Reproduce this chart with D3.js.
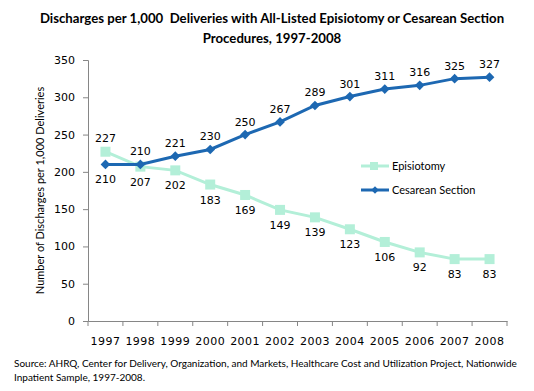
<!DOCTYPE html>
<html><head><meta charset="utf-8">
<script src="https://cdn.jsdelivr.net/npm/d3@7"></script>
<style>body{margin:0;background:#fff}svg{display:block}</style>
</head><body>
<script>
const years = ["1997","1998","1999","2000","2001","2002","2003","2004","2005","2006","2007","2008"];
const episiotomy = [227,207,202,183,169,149,139,123,106,92,83,83];
const cesarean = [210,210,221,230,250,267,289,301,311,316,325,327];
const yTicks = [0,50,100,150,200,250,300,350];
const titleLines = ["Discharges per 1,000  Deliveries with All-Listed Episiotomy or Cesarean Section","Procedures, 1997-2008"];
const sourceLines = ["Source:  AHRQ, Center for Delivery, Organization, and Markets, Healthcare Cost and Utilization Project, Nationwide","Inpatient Sample, 1997-2008."];

(function(){
const W=534,H=391;
const svg=d3.select("body").append("svg").attr("width",W).attr("height",H);
const pL=88,pR=507,pT=60,pB=321;
const x=d3.scaleBand().domain(years).range([pL,pR]);
const y=d3.scaleLinear().domain([0,350]).range([pB,pT]);
const axisCol="#868686";
const titleFont="Lato, 'Open Sans', sans-serif";

svg.append("g").selectAll("text").data(titleLines).join("text")
  .attr("x",272).attr("y",(d,i)=>23+i*20).attr("text-anchor","middle")
  .style("white-space","pre")
  .style("font-family",titleFont).style("font-weight","bold").style("font-size","13.2px").attr("fill","#000").text(d=>d);

const ya=svg.append("g").attr("transform",`translate(${pL},0)`)
  .call(d3.axisLeft(y).tickValues(yTicks).tickSize(5).tickPadding(8));
ya.select(".domain").attr("stroke",axisCol);
ya.selectAll(".tick line").attr("stroke",axisCol);
ya.selectAll("text").style("font-family","'DejaVu Sans'").style("font-size","11px").attr("fill","#000");

const xa=svg.append("g").attr("transform",`translate(0,${pB})`)
  .call(d3.axisBottom(x).tickSize(0).tickPadding(16));
xa.select(".domain").attr("stroke",axisCol);
xa.selectAll("text").style("font-family","'DejaVu Sans'").style("font-size","11px").style("letter-spacing","0.5px").attr("fill","#000");
xa.selectAll(".bound").data(years.concat(["end"])).join("line").attr("class","bound")
  .attr("x1",(d,i)=>pL+i*x.step()).attr("x2",(d,i)=>pL+i*x.step()).attr("y1",0).attr("y2",5).attr("stroke",axisCol);

svg.append("text").attr("transform",`translate(44,${(pT+pB)/2}) rotate(-90)`).attr("text-anchor","middle")
  .style("font-family",titleFont).style("font-size","11px").text("Number of Discharges per 1,000 Deliveries");

const cx=d=>x(d)+x.bandwidth()/2;
const line=d3.line().x((d,i)=>cx(years[i])).y(d=>y(d));
const epiCol="#b3efd8", cesCol="#1d68b2";

svg.append("path").datum(episiotomy).attr("d",line).attr("fill","none").attr("stroke",epiCol).attr("stroke-width",3);
svg.append("g").selectAll("rect").data(episiotomy).join("rect")
  .attr("x",(d,i)=>cx(years[i])-5).attr("y",d=>y(d)-5).attr("width",10).attr("height",10).attr("fill",epiCol);

svg.append("path").datum(cesarean).attr("d",line).attr("fill","none").attr("stroke",cesCol).attr("stroke-width",3);
const diamond=d3.symbol().type(d3.symbolDiamond2).size(60);
svg.append("g").selectAll("path").data(cesarean).join("path")
  .attr("d",diamond).attr("transform",(d,i)=>`translate(${cx(years[i])},${y(d)})`).attr("fill",cesCol);

const lblStyle=s=>s.style("font-family","'DejaVu Sans'").style("font-size","11px").attr("text-anchor","middle").attr("fill","#000");
svg.append("g").selectAll("text").data(episiotomy).join("text")
  .attr("x",(d,i)=>cx(years[i])).attr("y",(d,i)=>i===0? y(d)-10 : y(d)+19).text(d=>d).call(lblStyle);
svg.append("g").selectAll("text").data(cesarean).join("text")
  .attr("x",(d,i)=>cx(years[i])).attr("y",(d,i)=>i===0? y(d)+19 : y(d)-9).text(d=>d).call(lblStyle);

const leg=[["Episiotomy",epiCol,"sq"],["Cesarean Section",cesCol,"di"]];
leg.forEach((l,i)=>{
  const ly=166+i*24;
  svg.append("line").attr("x1",361).attr("x2",389).attr("y1",ly).attr("y2",ly).attr("stroke",l[1]).attr("stroke-width",3);
  if(l[2]==="sq") svg.append("rect").attr("x",370).attr("y",ly-4).attr("width",8).attr("height",8).attr("fill",l[1]);
  else svg.append("path").attr("d",d3.symbol().type(d3.symbolDiamond2).size(36)).attr("transform",`translate(375,${ly})`).attr("fill",l[1]);
  svg.append("text").attr("x",392).attr("y",ly+4).style("font-family",titleFont).style("font-size","11px").text(l[0]);
});

svg.append("g").selectAll("text").data(sourceLines).join("text")
  .attr("x",14).attr("y",(d,i)=>367+i*14).style("font-family",titleFont).style("font-size","10px").text(d=>d);
})();
</script>
</body></html>
